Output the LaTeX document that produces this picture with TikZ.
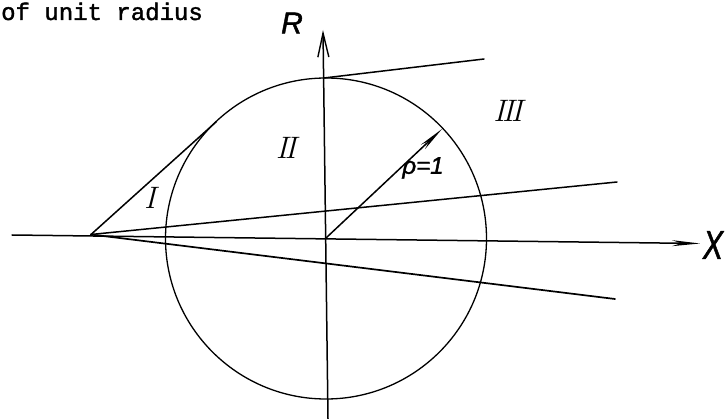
\documentclass[tikz,border=0pt]{standalone}
\usepackage{fontspec}
\newfontfamily\twfont[FakeBold=1.6]{Liberation Mono}
\newfontfamily\labfont[FakeBold=1.5]{Liberation Sans}
\usetikzlibrary{arrows.meta}
\begin{document}
\begin{tikzpicture}[x=1pt,y=-1pt,
  ln/.style={line width=1.5pt,line cap=round},
  roman/.style={font=\fontsize{31}{31}\selectfont\itshape},
  axlab/.style={font=\labfont\itshape\fontsize{30}{30}\selectfont}]
\useasboundingbox (0,0) rectangle (725,419);
% key points
\coordinate (P) at (91,234.5);
\coordinate (O) at (326,238);
\coordinate (T) at (216,122);
\coordinate (Top) at (324,78);
\coordinate (TopE) at (484,59);
\coordinate (U) at (617,182);
\coordinate (L) at (615,299);
\coordinate (Rho) at (442,129);
\coordinate (XL) at (12,235);
\coordinate (XR) at (700,243.5);
\coordinate (RB) at (328,419);
\coordinate (RT) at (323,30);
% circle
\node[circle,draw,line width=1.3pt,minimum size=321pt,inner sep=0pt] (C) at (326,238.5) {};
% axes
\draw[ln,-{Stealth[length=28pt,width=6pt]}] (XL) -- (XR);
\draw[ln,-{Straight Barb[length=24pt,width=11pt,line width=1.4pt]}] (RB) -- (RT);
% lines
\draw[ln] (P) -- (T);
\draw[ln] (P) -- (U);
\draw[ln,line width=1.7pt] (P) -- (L);
\draw[ln] (Top) -- (TopE);
\draw[ln,-{Stealth[length=26pt,width=6pt]}] (O) -- (Rho);
% labels
\node[anchor=base west,inner sep=0pt,font=\twfont\fontsize{24}{24}\selectfont] (cap) at (1,20) {of unit radius};
\node[axlab] (Rl) at (292,23) {R};
\node[font=\labfont\itshape\fontsize{40}{40}\selectfont,xscale=0.75] (Xl) at (713,245) {X};
\node[font=\labfont\itshape\fontsize{24}{24}\selectfont] (rl) at (423,168) {ρ=1};
\node[roman] (r1) at (150,198) {I};
\node[roman] (r2) at (286,148) {I\kern-3pt I};
\node[roman] (r3) at (508,111) {I\kern-3pt I\kern-3pt I};
\end{tikzpicture}
\end{document}
